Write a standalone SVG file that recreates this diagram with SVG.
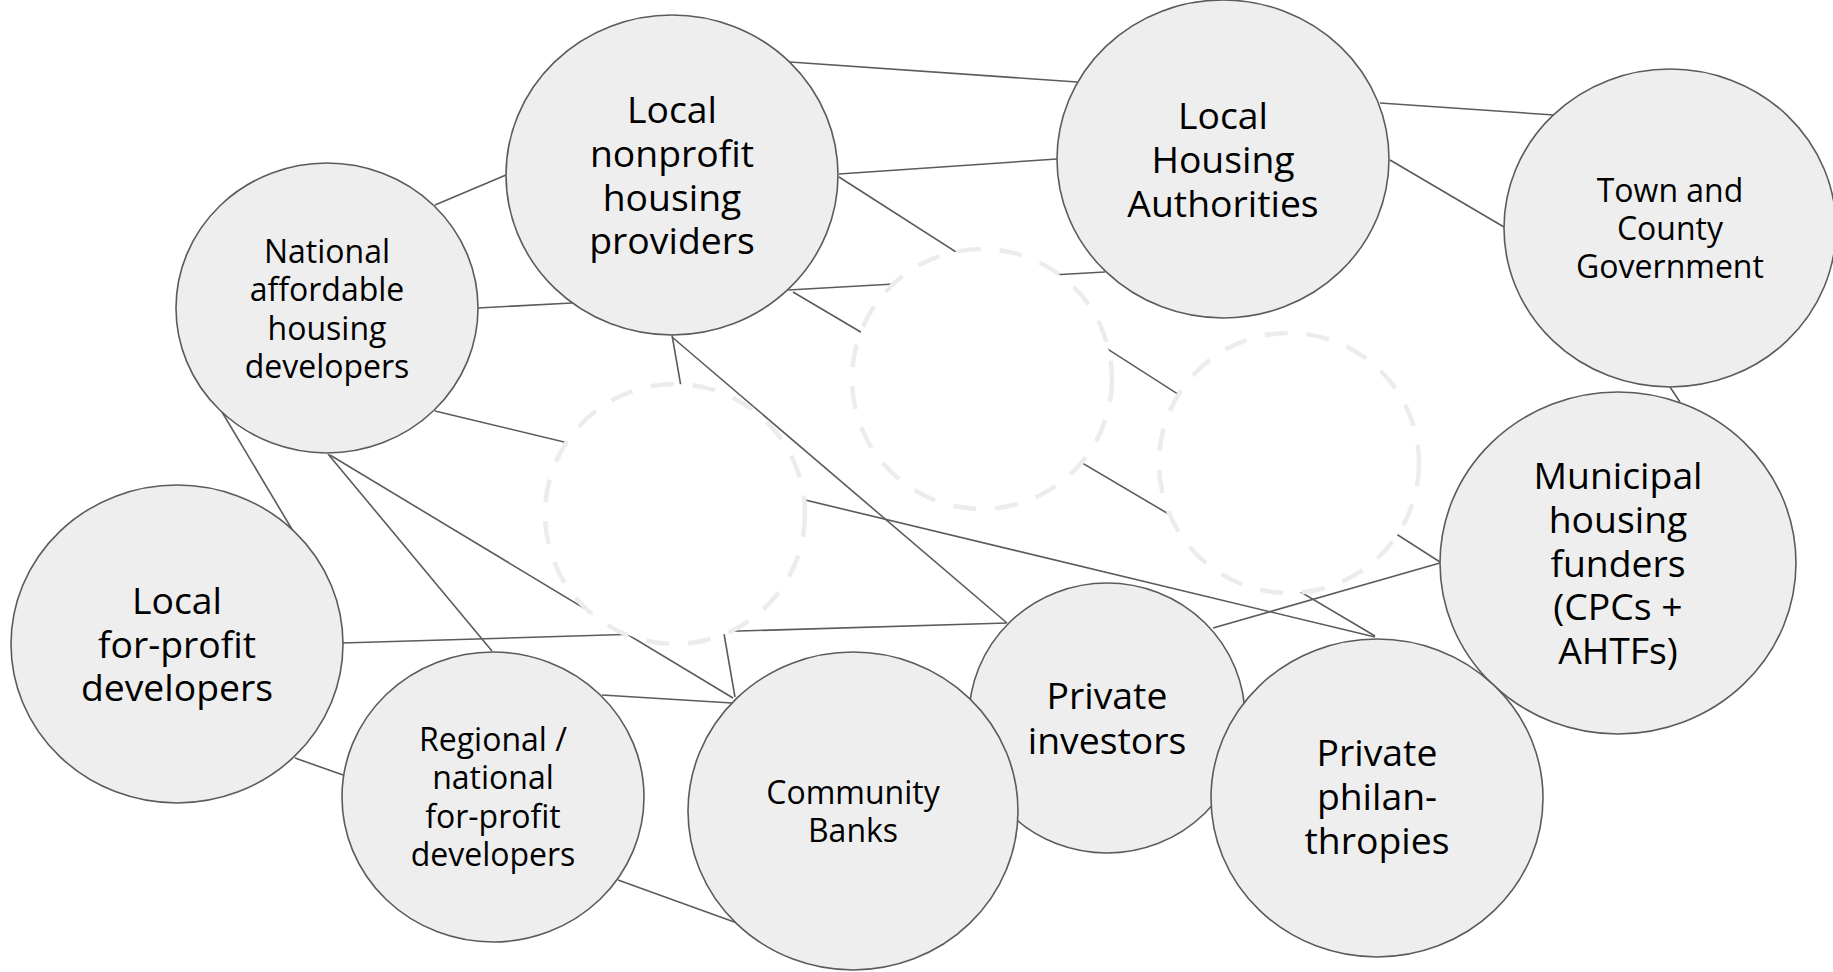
<svg xmlns="http://www.w3.org/2000/svg" width="1833" height="972" viewBox="0 0 1833 972">
  <style>
    .node ellipse { fill: #eeeeee; stroke: #5b5b5b; stroke-width: 1.6; }
    .node text { font-family: "Open Sans", "Noto Sans", "Liberation Sans", sans-serif; fill: #000000; text-anchor: middle; }
    .lg { font-size: 37.33px; }
    .sm { font-size: 32px; }
    .conn line { stroke: #5b5b5b; stroke-width: 1.6; fill: none; }
    .hub { fill: #ffffff; stroke: #ececec; stroke-width: 4.5; stroke-dasharray: 23 19; }
  </style>
  <rect width="1833" height="972" fill="#ffffff"/>

  <!-- connectors -->
  <g id="connectors" class="conn">
    <line x1="790" y1="62" x2="1077" y2="82"/>
    <line x1="839" y1="174" x2="1057" y2="159"/>
    <line x1="839" y1="177" x2="1440" y2="562"/>
    <line x1="788" y1="290" x2="1105" y2="272"/>
    <line x1="793" y1="292" x2="1375" y2="636"/>
    <line x1="672" y1="335" x2="735" y2="697"/>
    <line x1="672" y1="337" x2="1007" y2="623"/>
    <line x1="435" y1="205" x2="506" y2="175"/>
    <line x1="478" y1="308" x2="572" y2="303"/>
    <line x1="435" y1="411" x2="1375" y2="637"/>
    <line x1="222" y1="412" x2="293" y2="531"/>
    <line x1="328" y1="454" x2="492" y2="651"/>
    <line x1="330" y1="455" x2="733" y2="698"/>
    <line x1="342" y1="643" x2="1007" y2="623"/>
    <line x1="295" y1="758" x2="343" y2="775"/>
    <line x1="602" y1="695" x2="732" y2="703"/>
    <line x1="618" y1="880" x2="737" y2="923"/>
    <line x1="1213" y1="628" x2="1440" y2="563"/>
    <line x1="1380" y1="103" x2="1554" y2="115"/>
    <line x1="1390" y1="160" x2="1504" y2="227"/>
    <line x1="1670" y1="387" x2="1680" y2="402"/>
  </g>

  <!-- empty dashed placeholders -->
  <g id="placeholders">
    <circle id="hub-a" class="hub" cx="675" cy="514" r="130"/>
    <circle id="hub-b" class="hub" cx="982" cy="379" r="130"/>
    <circle id="hub-c" class="hub" cx="1289" cy="463" r="130"/>
  </g>

  <!-- nodes -->
  <g id="local-nonprofit" class="node">
    <ellipse cx="672" cy="175" rx="166" ry="160"/>
    <text class="lg"><tspan x="672" y="123">Local</tspan><tspan x="672" y="167">nonprofit</tspan><tspan x="672" y="211">housing</tspan><tspan x="672" y="254">providers</tspan></text>
  </g>
  <g id="local-housing-authorities" class="node">
    <ellipse cx="1223" cy="159" rx="166" ry="159"/>
    <text class="lg"><tspan x="1223" y="129">Local</tspan><tspan x="1223" y="173">Housing</tspan><tspan x="1223" y="217">Authorities</tspan></text>
  </g>
  <g id="town-county-government" class="node">
    <ellipse cx="1670" cy="228" rx="166" ry="159"/>
    <text class="sm"><tspan x="1670" y="202">Town and</tspan><tspan x="1670" y="240">County</tspan><tspan x="1670" y="278">Government</tspan></text>
  </g>
  <g id="national-affordable" class="node">
    <ellipse cx="327" cy="308" rx="151" ry="145"/>
    <text class="sm"><tspan x="327" y="263">National</tspan><tspan x="327" y="301">affordable</tspan><tspan x="327" y="340">housing</tspan><tspan x="327" y="378">developers</tspan></text>
  </g>
  <g id="local-for-profit" class="node">
    <ellipse cx="177" cy="644" rx="166" ry="159"/>
    <text class="lg"><tspan x="177" y="614">Local</tspan><tspan x="177" y="658">for-profit</tspan><tspan x="177" y="701">developers</tspan></text>
  </g>
  <g id="regional-national" class="node">
    <ellipse cx="493" cy="797" rx="151" ry="145"/>
    <text class="sm"><tspan x="493" y="751">Regional /</tspan><tspan x="493" y="789">national</tspan><tspan x="493" y="828">for-profit</tspan><tspan x="493" y="866">developers</tspan></text>
  </g>
  <g id="private-investors" class="node">
    <ellipse cx="1107" cy="718" rx="138" ry="135"/>
    <text class="lg"><tspan x="1107" y="709">Private</tspan><tspan x="1107" y="754">investors</tspan></text>
  </g>
  <g id="community-banks" class="node">
    <ellipse cx="853" cy="811" rx="165" ry="159"/>
    <text class="sm"><tspan x="853" y="804">Community</tspan><tspan x="853" y="842">Banks</tspan></text>
  </g>
  <g id="municipal-funders" class="node">
    <ellipse cx="1618" cy="563" rx="178" ry="171"/>
    <text class="lg"><tspan x="1618" y="489">Municipal</tspan><tspan x="1618" y="533">housing</tspan><tspan x="1618" y="577">funders</tspan><tspan x="1618" y="620">(CPCs +</tspan><tspan x="1618" y="664">AHTFs)</tspan></text>
  </g>
  <g id="private-philanthropies" class="node">
    <ellipse cx="1377" cy="798" rx="166" ry="159"/>
    <text class="lg"><tspan x="1377" y="766">Private</tspan><tspan x="1377" y="810">philan-</tspan><tspan x="1377" y="854">thropies</tspan></text>
  </g>
</svg>
